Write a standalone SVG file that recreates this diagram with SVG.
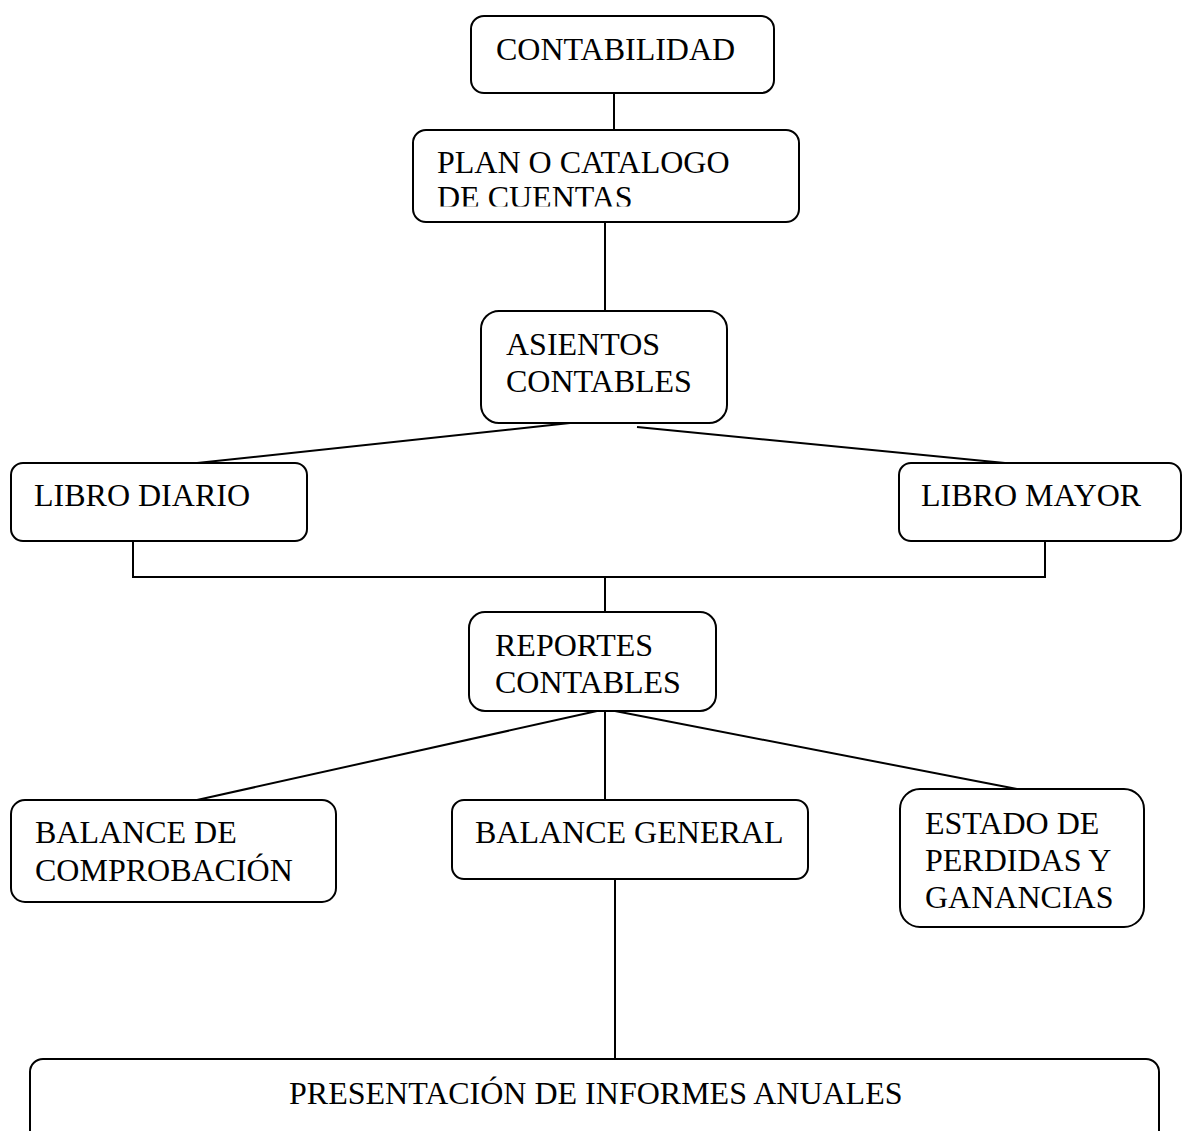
<svg xmlns="http://www.w3.org/2000/svg" width="1182" height="1131" viewBox="0 0 1182 1131">
<style>
.box{fill:#fff;stroke:#000;stroke-width:2}
.t{font-family:"Liberation Serif","Times New Roman",serif;font-size:32px;fill:#000}
.c{fill:none;stroke:#000;stroke-width:2}
</style>
<defs>
<clipPath id="clipPlan"><rect x="413" y="130" width="386" height="76.5"/></clipPath>
</defs>
<rect width="1182" height="1131" fill="#fff"/>
<g id="connectors">
<line class="c" x1="614" y1="93" x2="614" y2="130"/>
<line class="c" x1="605" y1="222" x2="605" y2="311"/>
<line class="c" x1="570" y1="423" x2="197" y2="463"/>
<line class="c" x1="637" y1="427" x2="1005" y2="463"/>
<polyline class="c" points="133,541 133,577 1045,577 1045,541"/>
<line class="c" x1="605" y1="577" x2="605" y2="612"/>
<line class="c" x1="597" y1="711" x2="197" y2="800"/>
<line class="c" x1="605" y1="711" x2="605" y2="800"/>
<line class="c" x1="615" y1="711" x2="1017" y2="789"/>
<line class="c" x1="615" y1="879" x2="615" y2="1059"/>
</g>
<g id="contabilidad">
<rect class="box" x="471" y="16" width="303" height="77" rx="13"/>
<text class="t" x="496" y="60">CONTABILIDAD</text>
</g>
<g id="plan">
<rect class="box" x="413" y="130" width="386" height="92" rx="13"/>
<g clip-path="url(#clipPlan)">
<text class="t" x="437" y="173">PLAN O CATALOGO</text>
<text class="t" x="437" y="208">DE CUENTAS</text>
</g>
</g>
<g id="asientos">
<rect class="box" x="481" y="311" width="246" height="112" rx="18"/>
<text class="t" x="506" y="355">ASIENTOS</text>
<text class="t" x="506" y="392">CONTABLES</text>
</g>
<g id="libro-diario">
<rect class="box" x="11" y="463" width="296" height="78" rx="12"/>
<text class="t" x="34" y="506">LIBRO DIARIO</text>
</g>
<g id="libro-mayor">
<rect class="box" x="899" y="463" width="282" height="78" rx="12"/>
<text class="t" x="921" y="506">LIBRO MAYOR</text>
</g>
<g id="reportes">
<rect class="box" x="469" y="612" width="247" height="99" rx="16"/>
<text class="t" x="495" y="656">REPORTES</text>
<text class="t" x="495" y="693">CONTABLES</text>
</g>
<g id="balance-comprobacion">
<rect class="box" x="11" y="800" width="325" height="102" rx="14"/>
<text class="t" x="35" y="843">BALANCE DE</text>
<text class="t" x="35" y="881">COMPROBACIÓN</text>
</g>
<g id="balance-general">
<rect class="box" x="452" y="800" width="356" height="79" rx="12"/>
<text class="t" x="475" y="843">BALANCE GENERAL</text>
</g>
<g id="estado">
<rect class="box" x="900" y="789" width="244" height="138" rx="20"/>
<text class="t" x="925" y="834">ESTADO DE</text>
<text class="t" x="925" y="871">PERDIDAS Y</text>
<text class="t" x="925" y="908">GANANCIAS</text>
</g>
<g id="presentacion">
<rect class="box" x="30" y="1059" width="1129" height="100" rx="13"/>
<text class="t" x="289" y="1104">PRESENTACIÓN DE INFORMES ANUALES</text>
</g>
</svg>
